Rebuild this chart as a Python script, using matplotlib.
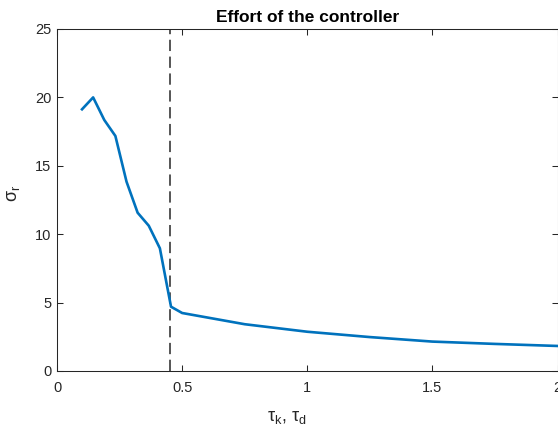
import numpy as np
import matplotlib
matplotlib.use("Agg")
import matplotlib.pyplot as plt

plt.rcParams['font.family'] = ['Liberation Sans', 'DejaVu Sans']
plt.rcParams['mathtext.fontset'] = 'custom'
plt.rcParams['mathtext.rm'] = 'Liberation Sans'
plt.rcParams['mathtext.it'] = 'Liberation Sans:italic'

# controller time constants and resulting effort
tau = [0.1, 0.1444, 0.1889, 0.2333, 0.2778, 0.3222, 0.3667, 0.4111, 0.4556, 0.5,
       0.75, 1.0, 1.25, 1.5, 1.75, 2.0]
sigma_r = [19.13, 20.0, 18.35, 17.18, 13.84, 11.57, 10.62, 8.97, 4.70, 4.24,
           3.42, 2.87, 2.48, 2.15, 1.98, 1.83]
threshold = 0.45

x_ticks = [0, 0.5, 1, 1.5, 2]
x_tick_labels = ["0", "0.5", "1", "1.5", "2"]
y_ticks = [0, 5, 10, 15, 20, 25]

axis_color = '#262626'

fig = plt.figure(figsize=(5.58, 4.28), dpi=100)
ax = fig.add_axes([57 / 558, 1 - 371 / 428, 500.5 / 558, 342 / 428])

ax.plot(tau, sigma_r, color='#0072BD', lw=1.9, zorder=3)
ax.axvline(threshold, color='#404040', lw=1.25, dashes=(6.5, 3.2), zorder=2)

ax.set_xlim(0, 2)
ax.set_ylim(0, 25)
ax.set_xticks(x_ticks)
ax.set_xticklabels(x_tick_labels)
ax.set_yticks(y_ticks)

for s in ax.spines.values():
    s.set_color(axis_color)
    s.set_linewidth(0.75)
ax.tick_params(direction='in', length=4.5, width=0.75, colors=axis_color,
               labelsize=10.5, top=True, right=True)
ax.tick_params(axis='x', pad=7)
ax.tick_params(axis='y', pad=4)

ax.set_title('Effort of the controller', fontsize=12.5, fontweight='bold',
             color='black', pad=5)
ax.set_xlabel(r'$\mathrm{\tau}_{\mathrm{k}}$, $\mathrm{\tau}_{\mathrm{d}}$',
              fontsize=13, color=axis_color)
ax.xaxis.set_label_coords(0.46, -0.11)
ax.set_ylabel(r'$\mathrm{\sigma}_{\mathrm{r}}$', fontsize=13, color=axis_color)
ax.yaxis.set_label_coords(-0.07, 0.52)

fig.savefig('out.png', dpi=100)
